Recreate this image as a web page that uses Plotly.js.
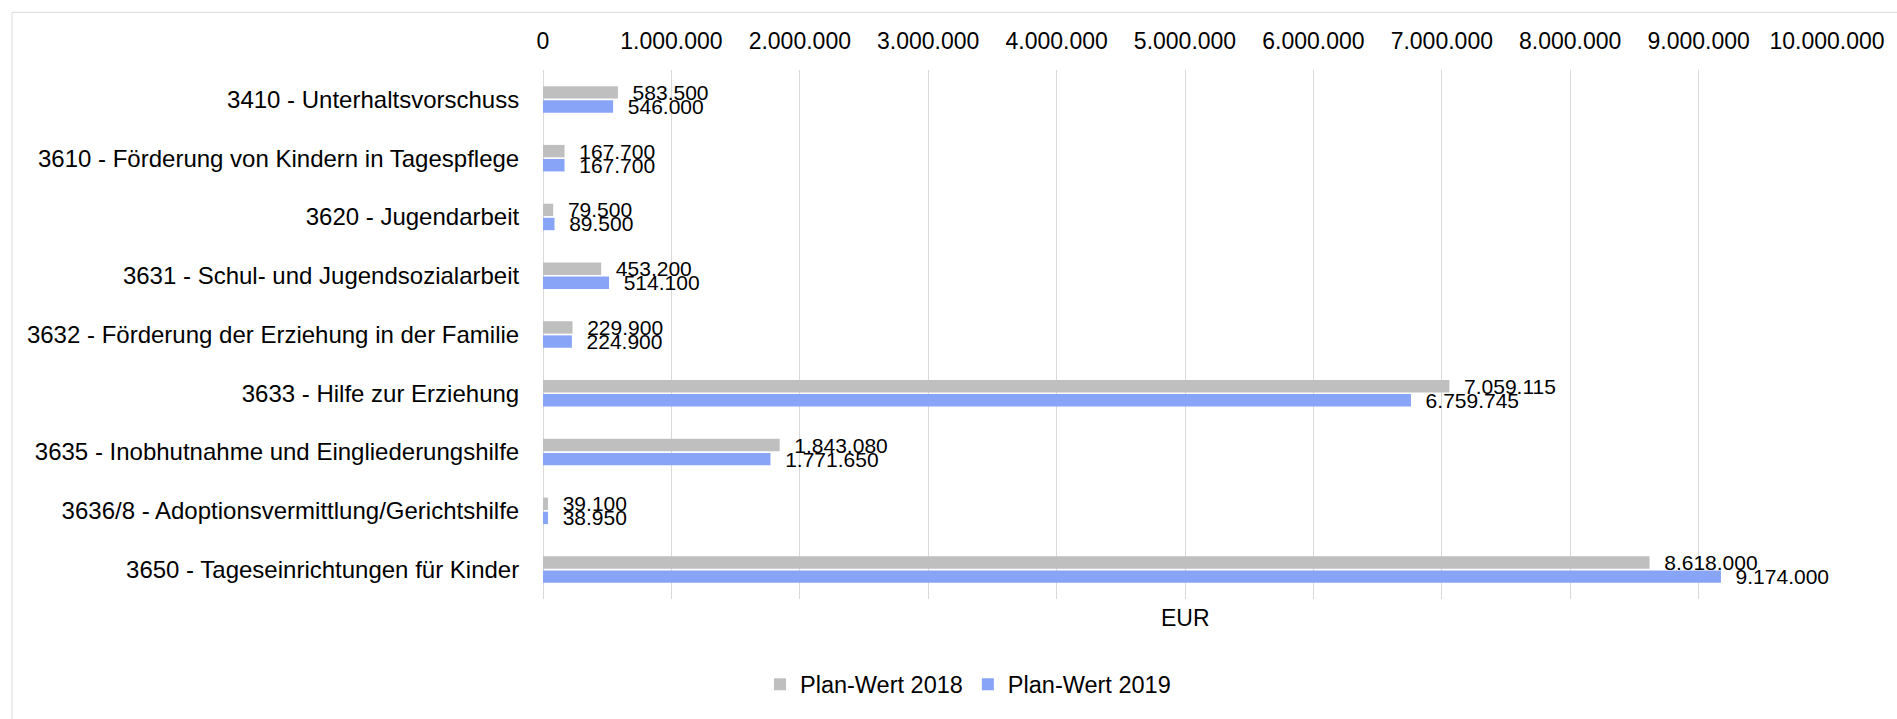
<!DOCTYPE html>
<html>
<head>
<meta charset="utf-8">
<script src="https://cdn.plot.ly/plotly-3.0.1.min.js"></script>
<style>html,body{margin:0;padding:0;background:#fff;}#chart{width:1897px;height:719px;}</style>
</head>
<body>
<div id="chart"></div>
<script>
const categories = [
  "3410 - Unterhaltsvorschuss",
  "3610 - Förderung von Kindern in Tagespflege",
  "3620 - Jugendarbeit",
  "3631 - Schul- und Jugendsozialarbeit",
  "3632 - Förderung der Erziehung in der Familie",
  "3633 - Hilfe zur Erziehung",
  "3635 - Inobhutnahme und Eingliederungshilfe",
  "3636/8 - Adoptionsvermittlung/Gerichtshilfe",
  "3650 - Tageseinrichtungen für Kinder"
];
const plan2018 = [583500, 167700, 79500, 453200, 229900, 7059115, 1843080, 39100, 8618000];
const plan2019 = [546000, 167700, 89500, 514100, 224900, 6759745, 1771650, 38950, 9174000];
const seriesNames = ["Plan-Wert 2018", "Plan-Wert 2019"];
const xTickValues = [0, 1000000, 2000000, 3000000, 4000000, 5000000, 6000000, 7000000, 8000000, 9000000, 10000000];
const axisTitle = "EUR";

const FONT = "Liberation Sans, Arial, sans-serif";

function barTrace(name, values, color) {
  return {
    type: "bar",
    orientation: "h",
    name: name,
    y: categories,
    x: values,
    marker: {color: color, line: {width: 0}},
    texttemplate: "\u00a0\u00a0%{x:,.0f}",
    textposition: "outside",
    constraintext: "none",
    cliponaxis: false,
    textfont: {family: FONT, size: 21, color: "#000"},
    hoverinfo: "skip"
  };
}

const data = [
  barTrace(seriesNames[0], plan2018, "#BFBFBF"),
  barTrace(seriesNames[1], plan2019, "#88A4F7")
];

const L = 543, R = 70, T = 70, B = 117, W = 1897, H = 719;
const pw = W - L - R, ph = H - T - B;
function px(x) { return (x - L) / pw; }
function py(y) { return (H - B - y) / ph; }

const layout = {
  width: W, height: H,
  margin: {l: L, r: R, t: T, b: B, pad: 0},
  paper_bgcolor: "#fff",
  plot_bgcolor: "#fff",
  separators: ",.",
  font: {family: FONT, size: 23, color: "#000"},
  barmode: "group",
  bargap: 0.52,
  bargroupgap: 0.12,
  showlegend: true,
  legend: {
    orientation: "h",
    x: px(968), xanchor: "center",
    y: py(688), yanchor: "middle",
    font: {family: FONT, size: 23.5, color: "#000"},
    itemsizing: "constant",
    traceorder: "normal",
    bgcolor: "rgba(0,0,0,0)"
  },
  xaxis: {
    side: "top",
    range: [0, 10000000],
    tickvals: xTickValues,
    tickformat: ",.0f",
    showgrid: true,
    gridcolor: "#D9D9D9",
    gridwidth: 1,
    zeroline: true,
    zerolinecolor: "#D9D9D9",
    zerolinewidth: 1,
    showline: false,
    ticks: "outside",
    ticklen: 11,
    tickcolor: "rgba(0,0,0,0)",
    tickfont: {family: FONT, size: 23, color: "#000"},
    fixedrange: true
  },
  yaxis: {
    autorange: "reversed",
    type: "category",
    showgrid: false,
    zeroline: false,
    showline: false,
    ticks: "outside",
    ticklen: 18,
    tickcolor: "rgba(0,0,0,0)",
    tickfont: {family: FONT, size: 24, color: "#000"},
    fixedrange: true
  },
  annotations: [{
    text: axisTitle,
    xref: "paper", yref: "paper",
    x: 0.5, y: py(621),
    xanchor: "center", yanchor: "middle",
    showarrow: false,
    font: {family: FONT, size: 23, color: "#000"}
  }],
  shapes: [{
    type: "rect",
    xref: "paper", yref: "paper",
    x0: px(12), x1: px(1910),
    y0: py(730), y1: py(12),
    line: {color: "#D9D9D9", width: 1},
    fillcolor: "rgba(0,0,0,0)",
    layer: "below"
  }]
};

Plotly.newPlot("chart", data, layout, {staticPlot: true, displayModeBar: false});
</script>
</body>
</html>
